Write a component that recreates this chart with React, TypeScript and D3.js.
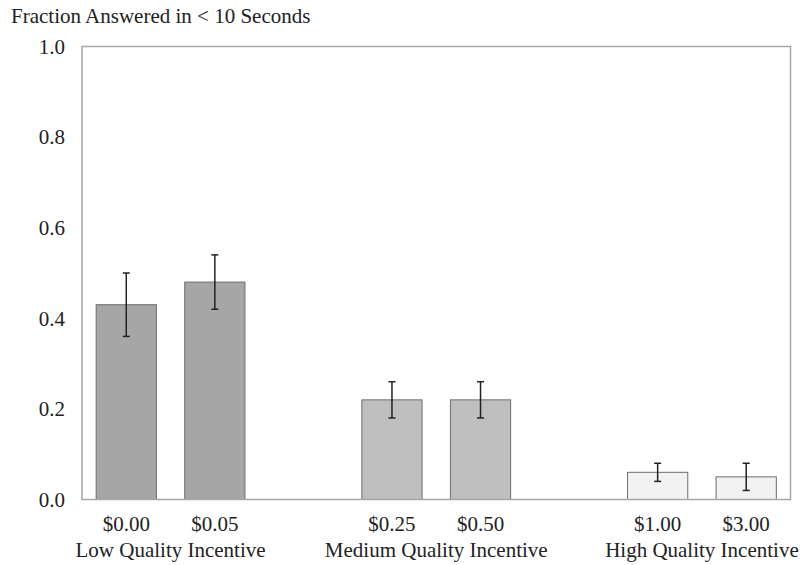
import React, { useEffect, useRef } from 'react';
import * as d3 from 'd3';

// slots along the x axis; empty keys leave the gaps between groups
const slots = ['$0.00', '$0.05', 'gap1', '$0.25', '$0.50', 'gap2', '$1.00', '$3.00'];
const prices = ['$0.00', '$0.05', '$0.25', '$0.50', '$1.00', '$3.00'];
const fractions = [0.43, 0.48, 0.22, 0.22, 0.06, 0.05];
const errLow = [0.36, 0.42, 0.18, 0.18, 0.04, 0.02];
const errHigh = [0.50, 0.54, 0.26, 0.26, 0.08, 0.08];
const groupOf = [0, 0, 1, 1, 2, 2];
const groups = ['Low Quality Incentive', 'Medium Quality Incentive', 'High Quality Incentive'];
const groupFills = ['#a6a6a6', '#bfbfbf', '#f2f2f2'];
const yTicks = [0, 0.2, 0.4, 0.6, 0.8, 1.0];

const App = () => {
  const ref = useRef(null);

  useEffect(() => {
    const svg = d3.select(ref.current);
    svg.selectAll('*').remove();

    const left = 82, right = 790.5, top = 46.5, bottom = 499.5;
    const font = '"Liberation Serif", "Times New Roman", serif';
    const fs = 21;

    const x = d3.scaleBand().domain(slots).range([left, right]).paddingInner(0.32).paddingOuter(0.16);
    const y = d3.scaleLinear().domain([0, 1]).range([bottom, top]);

    // title
    svg.append('text')
      .attr('x', 11).attr('y', 23)
      .attr('font-family', font).attr('font-size', fs).attr('fill', '#222')
      .text('Fraction Answered in < 10 Seconds');

    // y tick labels
    svg.selectAll('.ytick')
      .data(yTicks)
      .enter()
      .append('text')
      .attr('x', 65)
      .attr('y', d => y(d))
      .attr('dy', '0.35em')
      .attr('text-anchor', 'end')
      .attr('font-family', font).attr('font-size', fs).attr('fill', '#222')
      .text(d => d.toFixed(1));

    // bars
    svg.selectAll('.bar')
      .data(prices)
      .enter()
      .append('rect')
      .attr('x', d => x(d))
      .attr('y', (d, i) => y(fractions[i]))
      .attr('width', x.bandwidth())
      .attr('height', (d, i) => y(0) - y(fractions[i]))
      .attr('fill', (d, i) => groupFills[groupOf[i]])
      .attr('stroke', '#6e6e6e')
      .attr('stroke-width', 1);

    // error bars
    const cx = d => x(d) + x.bandwidth() / 2;
    const eb = svg.append('g').attr('stroke', '#222').attr('stroke-width', 1.5);
    prices.forEach((p, i) => {
      eb.append('line').attr('x1', cx(p)).attr('x2', cx(p)).attr('y1', y(errLow[i])).attr('y2', y(errHigh[i]));
      eb.append('line').attr('x1', cx(p) - 3.5).attr('x2', cx(p) + 3.5).attr('y1', y(errLow[i])).attr('y2', y(errLow[i]));
      eb.append('line').attr('x1', cx(p) - 3.5).attr('x2', cx(p) + 3.5).attr('y1', y(errHigh[i])).attr('y2', y(errHigh[i]));
    });

    // frame
    svg.append('rect')
      .attr('x', left).attr('y', top)
      .attr('width', right - left).attr('height', bottom - top)
      .attr('fill', 'none').attr('stroke', '#a6a6a6').attr('stroke-width', 1.5);

    // price labels
    svg.selectAll('.xlab')
      .data(prices)
      .enter()
      .append('text')
      .attr('x', d => cx(d))
      .attr('y', 531)
      .attr('text-anchor', 'middle')
      .attr('font-family', font).attr('font-size', fs).attr('fill', '#222')
      .text(d => d);

    // group labels
    svg.selectAll('.glab')
      .data(groups)
      .enter()
      .append('text')
      .attr('x', (d, g) => {
        const members = prices.filter((p, i) => groupOf[i] === g);
        return (cx(members[0]) + cx(members[1])) / 2;
      })
      .attr('y', 557)
      .attr('text-anchor', 'middle')
      .attr('font-family', font).attr('font-size', fs).attr('fill', '#222')
      .text(d => d);
  }, []);

  return (
    <svg ref={ref} width={800} height={565} style={{ position: 'absolute', left: 0, top: 0 }}></svg>
  );
};

export default App;
